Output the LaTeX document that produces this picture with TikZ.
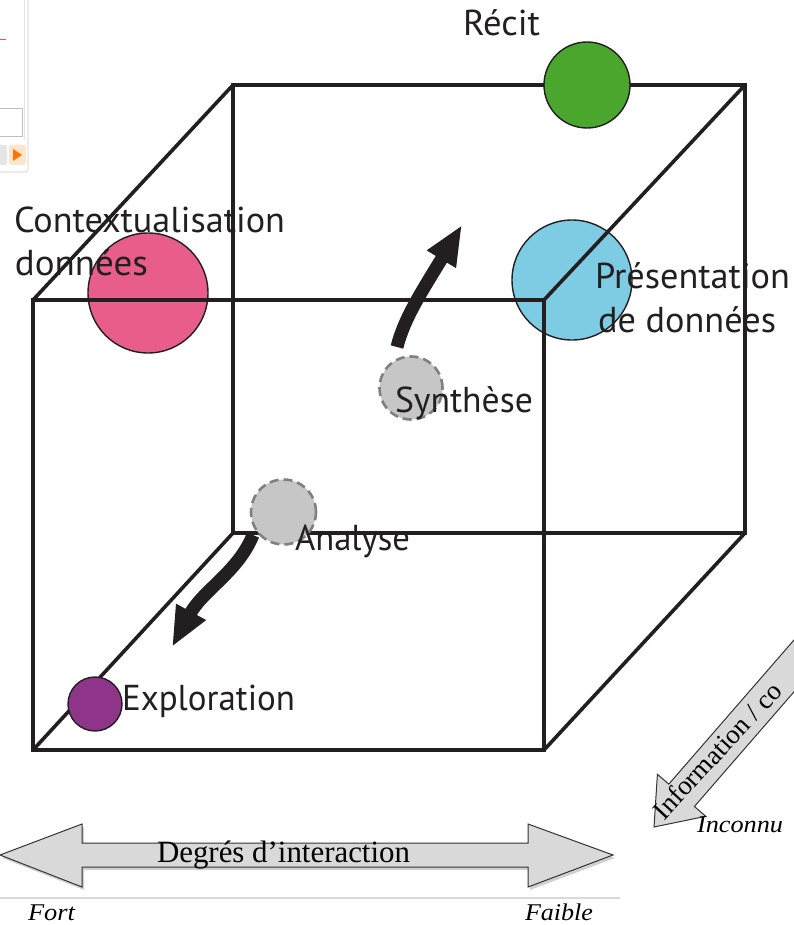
\documentclass[tikz,border=0pt]{standalone}
\usepackage{fontspec}
\setmainfont{Liberation Serif}
\newfontfamily\sansf{PT Sans}
\usetikzlibrary{arrows.meta}
\newcommand{\fw}[2]{\resizebox{#1pt}{\height}{#2}}
\definecolor{ink}{RGB}{35,31,32}
\definecolor{greenc}{RGB}{74,166,44}
\definecolor{bluec}{RGB}{126,203,228}
\definecolor{pinkc}{RGB}{232,93,138}
\definecolor{purplec}{RGB}{142,52,137}
\definecolor{greyc}{RGB}{198,198,198}
\definecolor{dashc}{RGB}{128,128,128}
\definecolor{arrowfill}{RGB}{217,217,217}
\tikzset{
  cube/.style={draw=ink, line width=3.6pt},
  dot/.style={circle, draw=ink, line width=1.4pt, inner sep=0pt},
  ghost/.style={circle, fill=greyc, draw=dashc, line width=2.6pt, dash pattern=on 9pt off 5pt, inner sep=0pt},
  lbl/.style={anchor=base west, inner sep=0pt, outer sep=0pt, text=ink, font=\sansf\fontsize{36}{40}\selectfont},
  slbl/.style={anchor=base west, inner sep=0pt, outer sep=0pt, text=black, font=\fontsize{31}{34}\selectfont},
  ilbl/.style={anchor=base west, inner sep=0pt, outer sep=0pt, text=black, font=\itshape\fontsize{24}{26}\selectfont},
  bigarrow/.style={draw=ink, line width=13pt, -{Triangle[length=40pt,width=31pt]}},
  fatarrow/.style={fill=arrowfill, draw=black!80, line width=1pt, line join=miter},
  shade/.style={fill=black!18, draw=none}
}
\begin{document}
\begin{tikzpicture}[x=1pt,y=-1pt]
\useasboundingbox (0,0) rectangle (794,925);
% partial screenshot remnant (top-left)
\draw[black!12, line width=1.2pt, rounded corners=3pt] (-3,172) -- (28,172) -- (28,-3);
\draw[black!10, line width=1pt] (24,-3) -- (24,140);
\draw[red!70, line width=1pt] (-2,40) -- (6,40);
\draw[black!25, line width=0.8pt] (-2,108) rectangle (22,136);
\fill[black!10, rounded corners=2pt] (-4,145) rectangle (7,165);
\fill[orange!20, rounded corners=2pt] (9,145) rectangle (26,165);
\fill[orange!90!red] (13,149) -- (22,155) -- (13,161) -- cycle;
% circles under the cube lines
\node[dot, fill=pinkc, minimum size=120pt] (ctx) at (148,293) {};
\node[dot, fill=bluec, minimum size=120pt] (pres) at (572,280) {};
% cube
\coordinate (fa) at (33,300); \coordinate (fb) at (544,300);
\coordinate (fc) at (544,750); \coordinate (fd) at (33,750);
\coordinate (ba) at (233,85); \coordinate (bb) at (745,85);
\coordinate (bc) at (745,533); \coordinate (bd) at (233,533);
\draw[cube] (fa) -- (fb) -- (fc) -- (fd) -- cycle;
\draw[cube] (ba) -- (bb) -- (bc) -- (bd) -- cycle;
\draw[cube] (fa) -- (ba);
\draw[cube] (fb) -- (bb);
\draw[cube] (fc) -- (bc);
\draw[cube] (fd) -- (bd);
% circles above the cube lines
\node[dot, fill=greenc, minimum size=86pt] (recit) at (587,85) {};
\node[dot, fill=purplec, minimum size=54pt] (explo) at (95,704) {};
\node[ghost, minimum size=63pt] (synth) at (411,388) {};
\node[ghost, minimum size=65pt] (anal) at (283.5,512) {};
% curved black arrows
\coordinate (s1) at (397,347); \coordinate (s2) at (462,225);
\draw[bigarrow] (s1) .. controls (404,318) and (424,288) .. (s2);
\coordinate (a1) at (253,535); \coordinate (a2) at (172,647);
\draw[bigarrow] (a1) .. controls (238,572) and (203,590) .. (a2);
% labels
\node[lbl] (trecit) at (463,36) {\fw{77}{Récit}};
\node[lbl] (tctx1) at (14,233) {\fw{271}{Contextualisation}};
\node[lbl] (tctx2) at (15,275) {\fw{133}{données}};
\node[lbl] (tpres1) at (595,288) {\fw{195}{Présentation}};
\node[lbl] (tpres2) at (598,332) {\fw{178}{de données}};
\node[lbl] (tsynth) at (395,412) {\fw{138}{Synthèse}};
\node[lbl] (tanal) at (295,550) {\fw{115}{Analyse}};
\node[lbl] (texplo) at (122,710) {\fw{173}{Exploration}};
% horizontal double arrow
\fill[shade] (2,858) -- (84,827) -- (84,846) -- (530,846) -- (530,827) -- (615,858)
  -- (530,890) -- (530,870) -- (84,870) -- (84,890) -- cycle;
\draw[fatarrow] (0,855) -- (82,824) -- (82,843) -- (528,843) -- (528,824) -- (613,855)
  -- (528,887) -- (528,867) -- (82,867) -- (82,887) -- cycle;
\node[slbl] (tdeg) at (157,862) {\fw{253}{Degrés d’interaction}};
\draw[black!15, line width=1.5pt] (0,898) -- (620,898);
\node[ilbl] (tfort) at (28,920) {\fw{47}{Fort}};
\node[ilbl] (tfaible) at (525,920) {\fw{68}{Faible}};
% diagonal arrow
\draw[fatarrow] (654,827) -- (657.4,774.3) -- (668.8,784.1) -- (838,589.3)
  -- (863.6,611.7) -- (694.4,806.5) -- (705.8,816.3) -- cycle;
\node[slbl, rotate=47, font=\fontsize{27}{30}\selectfont] (tinfo) at (664,821) {Information / co};
\node[ilbl] (tinc) at (697,832) {\fw{86}{Inconnu}};
\end{tikzpicture}
\end{document}
